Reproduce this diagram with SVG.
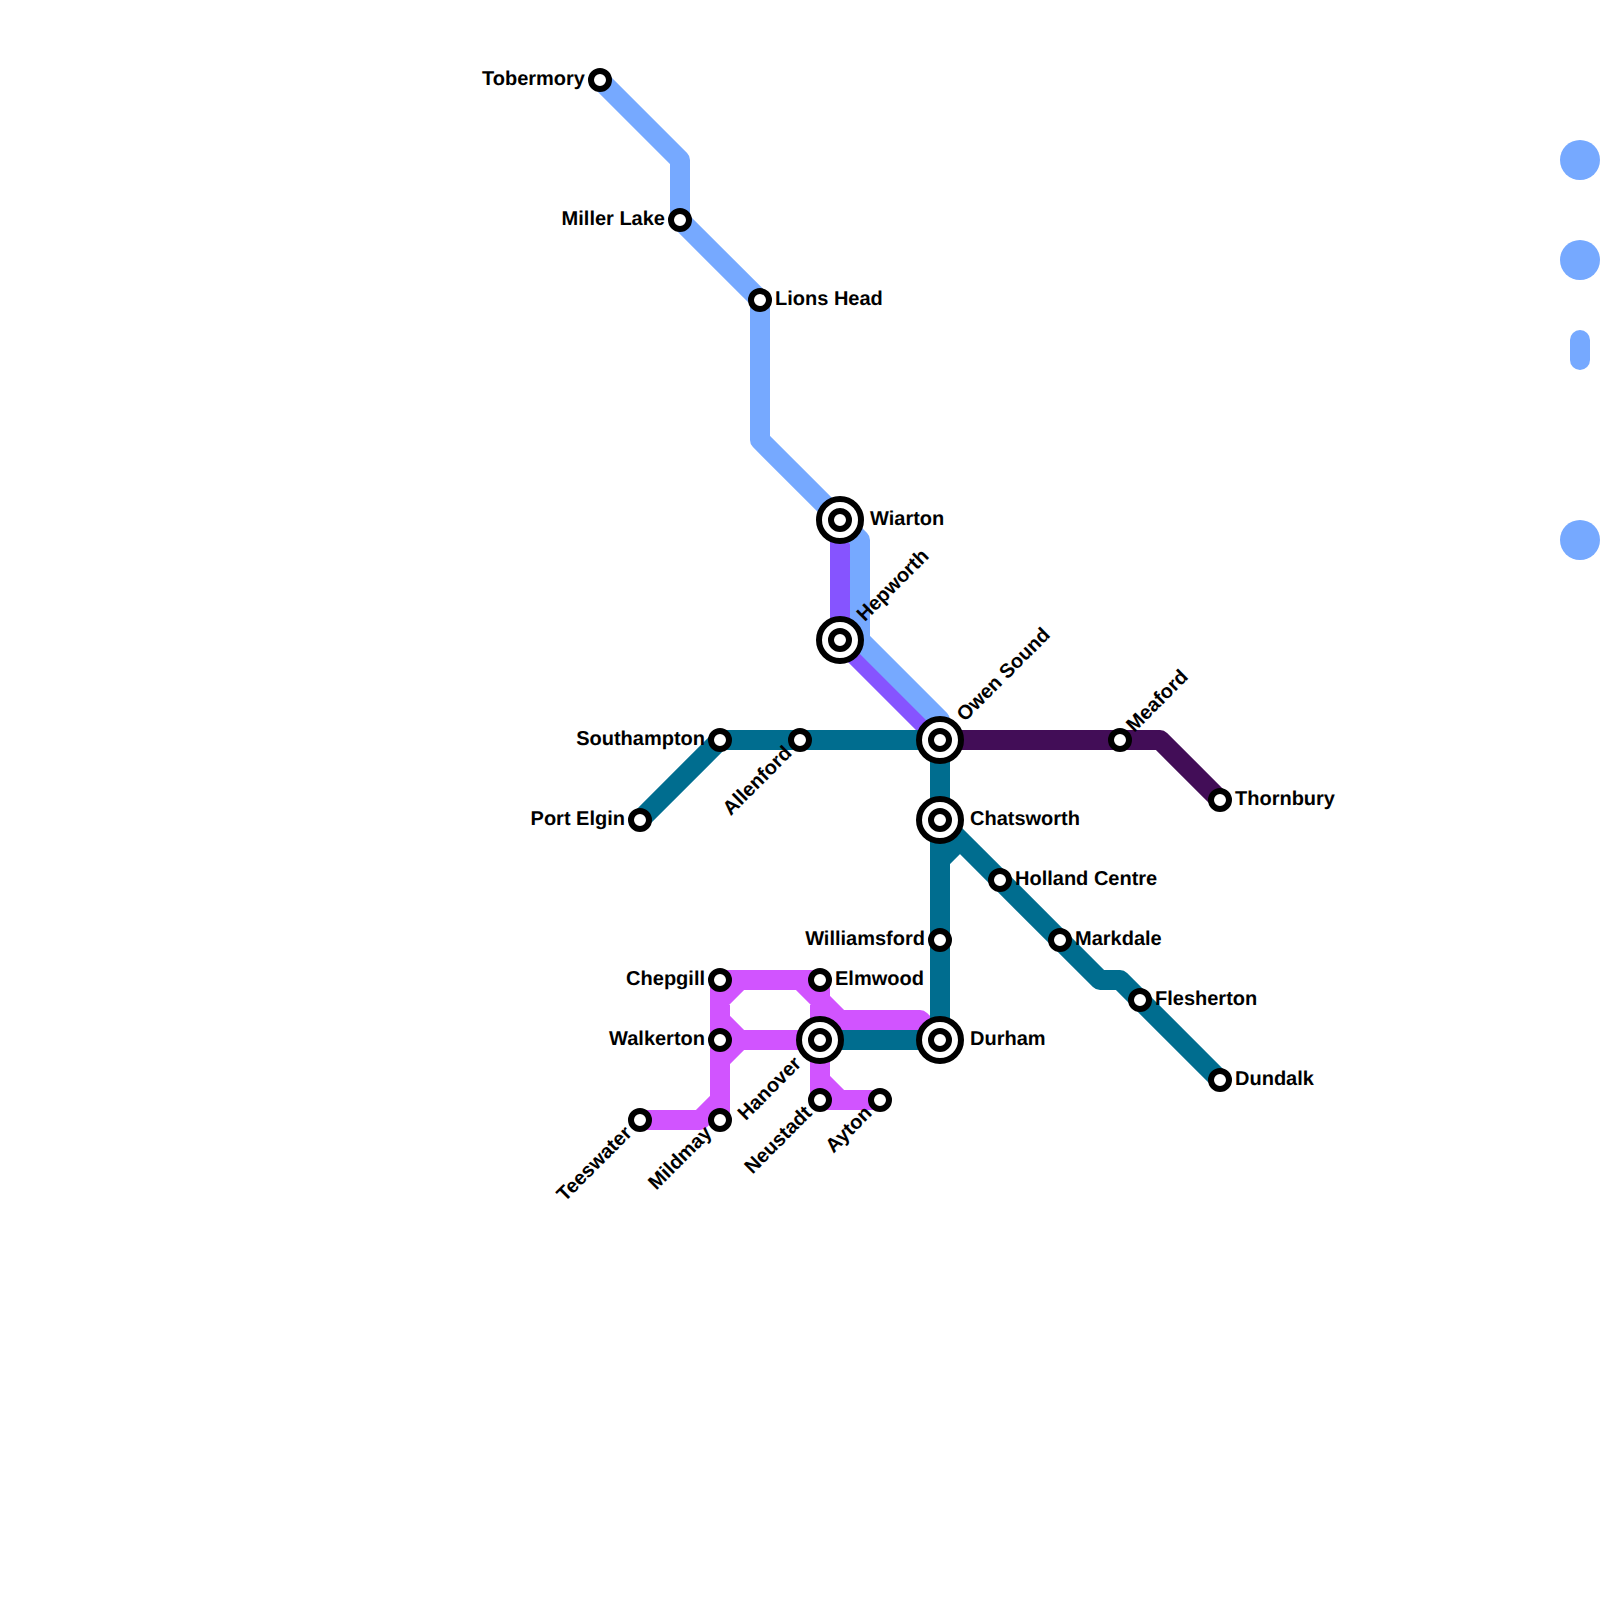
<svg xmlns="http://www.w3.org/2000/svg" width="1600" height="1600" viewBox="0 0 1600 1600">
<style>
.l{fill:none;stroke-width:20;stroke-linejoin:round;stroke-linecap:round}
.b{stroke:#76a9ff}.v{stroke:#8654ff}.p{stroke:#d154ff}.t{stroke:#006d8f}.d{stroke:#420d57}
.s{fill:#fff;stroke:#000;stroke-width:6}
text{font-family:"Liberation Sans",Arial,sans-serif;font-size:20px;font-weight:700;fill:#000;text-rendering:geometricPrecision}
.e{text-anchor:end}
</style>
<defs>
<g id="st"><circle class="s" r="9"/></g>
<g id="ic"><circle class="s" r="21"/><circle class="s" r="9"/></g>
</defs>
<rect width="1600" height="1600" fill="#fff"/>
<g id="connectors">
<path class="l v" d="M840 520V640L940 740"/>
<path class="l b" d="M600 80L680 160V220L760 300V440L840 520L860 540V640L940 720"/>
<path class="l p" d="M640 1120H700L720 1100M720 1120V980H820M720 1000L740 980M720 1020L740 1040H820M720 1060L740 1040M800 980L820 1000M820 980V1100M820 1000L840 1020H920L940 1040M820 1080L840 1100H880M820 1100H840"/>
<path class="l t" d="M640 820L720 740H940V1040H820M940 860L960 840L1100 980H1120L1220 1080M940 820L960 840"/>
<path class="l d" d="M940 740H1160L1220 800"/>
<circle cx="1580" cy="160" r="20" fill="#76a9ff"/>
<circle cx="1580" cy="260" r="20" fill="#76a9ff"/>
<rect x="1570" y="330" width="20" height="40" rx="10" fill="#76a9ff"/>
<circle cx="1580" cy="540" r="20" fill="#76a9ff"/>
</g>
<g id="tobermory" transform="translate(600 80)"><use href="#st"/><text class="e" x="-15" y="5">Tobermory</text></g>
<g id="miller-lake" transform="translate(680 220)"><use href="#st"/><text class="e" x="-15" y="5">Miller Lake</text></g>
<g id="lions-head" transform="translate(760 300)"><use href="#st"/><text x="15" y="5">Lions Head</text></g>
<g id="wiarton" transform="translate(840 520)"><use href="#ic"/><text x="30" y="5">Wiarton</text></g>
<g id="hepworth" transform="translate(840 640)"><use href="#ic"/><text transform="rotate(-45)" x="30" y="5">Hepworth</text></g>
<g id="owen-sound" transform="translate(940 740)"><use href="#ic"/><text transform="rotate(-45)" x="30" y="5">Owen Sound</text></g>
<g id="chatsworth" transform="translate(940 820)"><use href="#ic"/><text x="30" y="5">Chatsworth</text></g>
<g id="holland-centre" transform="translate(1000 880)"><use href="#st"/><text x="15" y="5">Holland Centre</text></g>
<g id="markdale" transform="translate(1060 940)"><use href="#st"/><text x="15" y="5">Markdale</text></g>
<g id="flesherton" transform="translate(1140 1000)"><use href="#st"/><text x="15" y="5">Flesherton</text></g>
<g id="dundalk" transform="translate(1220 1080)"><use href="#st"/><text x="15" y="5">Dundalk</text></g>
<g id="williamsford" transform="translate(940 940)"><use href="#st"/><text class="e" x="-15" y="5">Williamsford</text></g>
<g id="durham" transform="translate(940 1040)"><use href="#ic"/><text x="30" y="5">Durham</text></g>
<g id="hanover" transform="translate(820 1040)"><use href="#ic"/><text class="e" transform="rotate(-45)" x="-30" y="5">Hanover</text></g>
<g id="elmwood" transform="translate(820 980)"><use href="#st"/><text x="15" y="5">Elmwood</text></g>
<g id="chepgill" transform="translate(720 980)"><use href="#st"/><text class="e" x="-15" y="5">Chepgill</text></g>
<g id="walkerton" transform="translate(720 1040)"><use href="#st"/><text class="e" x="-15" y="5">Walkerton</text></g>
<g id="mildmay" transform="translate(720 1120)"><use href="#st"/><text class="e" transform="rotate(-45)" x="-15" y="5">Mildmay</text></g>
<g id="teeswater" transform="translate(640 1120)"><use href="#st"/><text class="e" transform="rotate(-45)" x="-15" y="5">Teeswater</text></g>
<g id="neustadt" transform="translate(820 1100)"><use href="#st"/><text class="e" transform="rotate(-45)" x="-15" y="5">Neustadt</text></g>
<g id="ayton" transform="translate(880 1100)"><use href="#st"/><text class="e" transform="rotate(-45)" x="-15" y="5">Ayton</text></g>
<g id="southampton" transform="translate(720 740)"><use href="#st"/><text class="e" x="-15" y="5">Southampton</text></g>
<g id="allenford" transform="translate(800 740)"><use href="#st"/><text class="e" transform="rotate(-45)" x="-15" y="5">Allenford</text></g>
<g id="port-elgin" transform="translate(640 820)"><use href="#st"/><text class="e" x="-15" y="5">Port Elgin</text></g>
<g id="meaford" transform="translate(1120 740)"><use href="#st"/><text transform="rotate(-45)" x="15" y="5">Meaford</text></g>
<g id="thornbury" transform="translate(1220 800)"><use href="#st"/><text x="15" y="5">Thornbury</text></g>
</svg>
